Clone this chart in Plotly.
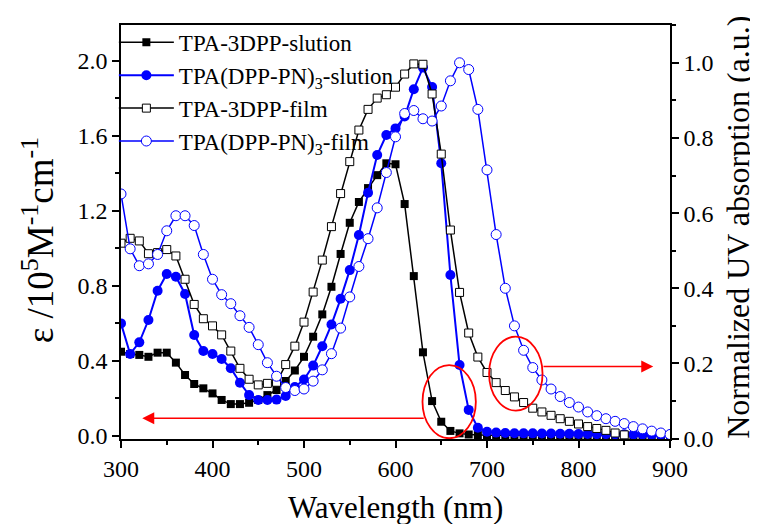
import plotly.graph_objects as go

wavelength = list(range(300, 910, 10))
wavelength_film1 = list(range(300, 860, 10))

tpa3dpp_solution = [
    0.449, 0.437, 0.432, 0.422, 0.444, 0.444, 0.391, 0.325, 0.277, 0.254,
    0.227, 0.192, 0.170, 0.170, 0.177, 0.192, 0.218, 0.245, 0.293, 0.349,
    0.422, 0.529, 0.648, 0.795, 0.970, 1.136, 1.247, 1.321, 1.390, 1.453,
    1.448, 1.236, 0.852, 0.446, 0.186, 0.076, 0.027, 0.014, 0.008, 0.005,
    0.004, 0.004, 0.004, 0.004, 0.003, 0.003, 0.003, 0.003, 0.003, 0.003,
    0.003, 0.003, 0.003, 0.003, 0.002, 0.002, 0.002, 0.002, 0.002, 0.002,
    0.002]

tpadpppn_solution = [
    0.600, 0.437, 0.499, 0.618, 0.774, 0.863, 0.849, 0.757, 0.538, 0.453,
    0.437, 0.410, 0.361, 0.284, 0.218, 0.192, 0.192, 0.194, 0.213, 0.261,
    0.301, 0.375, 0.478, 0.594, 0.731, 0.884, 1.071, 1.296, 1.497, 1.604,
    1.639, 1.702, 1.848, 1.963, 1.859, 1.453, 0.858, 0.378, 0.139, 0.044,
    0.023, 0.018, 0.016, 0.015, 0.014, 0.014, 0.013, 0.013, 0.012, 0.012,
    0.011, 0.011, 0.010, 0.010, 0.009, 0.009, 0.008, 0.008, 0.007, 0.007,
    0.006]

tpa3dpp_film = [
    0.520, 0.533, 0.526, 0.492, 0.495, 0.503, 0.486, 0.424, 0.357, 0.319,
    0.300, 0.276, 0.233, 0.187, 0.158, 0.143, 0.147, 0.150, 0.197, 0.246,
    0.310, 0.390, 0.475, 0.564, 0.652, 0.737, 0.821, 0.876, 0.906, 0.915,
    0.935, 0.970, 0.997, 0.996, 0.917, 0.757, 0.555, 0.389, 0.281, 0.217,
    0.176, 0.149, 0.128, 0.111, 0.096, 0.081, 0.071, 0.062, 0.053, 0.046,
    0.039, 0.032, 0.027, 0.022, 0.015, 0.010]

tpadpppn_film = [
    0.651, 0.505, 0.460, 0.465, 0.490, 0.553, 0.593, 0.593, 0.567, 0.490,
    0.424, 0.383, 0.359, 0.327, 0.296, 0.250, 0.202, 0.166, 0.136, 0.128,
    0.132, 0.153, 0.183, 0.226, 0.294, 0.377, 0.458, 0.532, 0.614, 0.708,
    0.803, 0.865, 0.873, 0.851, 0.845, 0.885, 0.952, 1.000, 0.982, 0.876,
    0.715, 0.543, 0.400, 0.300, 0.235, 0.189, 0.156, 0.132, 0.112, 0.096,
    0.084, 0.071, 0.061, 0.053, 0.046, 0.040, 0.032, 0.026, 0.020, 0.015,
    0.011]

series_names = ["TPA-3DPP-slution", "TPA(DPP-PN)<sub>3</sub>-slution",
                "TPA-3DPP-film", "TPA(DPP-PN)<sub>3</sub>-film"]

x_ticks = [300, 400, 500, 600, 700, 800, 900]

FONT = "Liberation Serif, Times New Roman, serif"
BLUE = "#0000ff"
RED = "#ff0000"

fig = go.Figure()

fig.add_trace(go.Scatter(
    x=wavelength, y=tpa3dpp_solution, name=series_names[0], mode="lines+markers",
    line=dict(color="black", width=1.5),
    marker=dict(symbol="square", size=8, color="black"), yaxis="y"))
fig.add_trace(go.Scatter(
    x=wavelength, y=tpadpppn_solution, name=series_names[1], mode="lines+markers",
    line=dict(color=BLUE, width=2),
    marker=dict(symbol="circle", size=10, color=BLUE), yaxis="y"))
fig.add_trace(go.Scatter(
    x=wavelength_film1, y=tpa3dpp_film, name=series_names[2], mode="lines+markers",
    line=dict(color="black", width=1.5),
    marker=dict(symbol="square", size=8, color="white",
                line=dict(color="black", width=1)), yaxis="y2"))
fig.add_trace(go.Scatter(
    x=wavelength, y=tpadpppn_film, name=series_names[3], mode="lines+markers",
    line=dict(color=BLUE, width=1.5),
    marker=dict(symbol="circle", size=10, color="white",
                line=dict(color=BLUE, width=1)), yaxis="y2"))

axis_common = dict(showline=True, linecolor="black", linewidth=1.5,
                   ticks="outside", ticklen=7, tickwidth=1.5, tickcolor="black",
                   showgrid=False, zeroline=False,
                   tickfont=dict(family=FONT, size=24, color="black"))

fig.update_layout(
    width=758, height=524,
    margin=dict(l=113, r=96, t=17, b=93),
    paper_bgcolor="white", plot_bgcolor="white",
    font=dict(family=FONT, color="black"),
    xaxis=dict(range=[300, 900], tickvals=x_ticks, mirror=True,
               minor=dict(ticks="outside", ticklen=4, tickwidth=1.5, dtick=50,
                          tick0=300, tickcolor="black"),
               **axis_common),
    yaxis=dict(range=[-0.016, 2.19], dtick=0.4, tick0=0, tickformat=".1f",
               minor=dict(ticks="outside", ticklen=4, tickwidth=1.5, dtick=0.2,
                          tick0=0, tickcolor="black"),
               **axis_common),
    yaxis2=dict(range=[-0.001, 1.1005], dtick=0.2, tick0=0, tickformat=".1f",
                overlaying="y", side="right",
                minor=dict(ticks="outside", ticklen=4, tickwidth=1.5, dtick=0.1,
                           tick0=0, tickcolor="black"),
                **axis_common),
    legend=dict(x=-0.013, y=1.01, xanchor="left", yanchor="top",
                bgcolor="rgba(0,0,0,0)", borderwidth=0,
                font=dict(family=FONT, size=23, color="black"),
                itemwidth=55, tracegroupgap=0),
    showlegend=True,
)

# Red ellipses
fig.add_shape(type="circle", xref="x", yref="y", x0=629.5, x1=687.8, y0=-0.012, y1=0.378,
              line=dict(color=RED, width=1.8))
fig.add_shape(type="circle", xref="x", yref="y", x0=702.3, x1=760.7, y0=0.135, y1=0.529,
              line=dict(color=RED, width=1.8))

# Red arrows
fig.add_annotation(x=323.2, y=0.094, ax=632.5, ay=0.094, xref="x", yref="y",
                   axref="x", ayref="y", text="", showarrow=True,
                   arrowhead=2, arrowsize=1.6, arrowwidth=1.5, arrowcolor=RED)
fig.add_annotation(x=881.7, y=0.370, ax=760.1, ay=0.370, xref="x", yref="y",
                   axref="x", ayref="y", text="", showarrow=True,
                   arrowhead=2, arrowsize=1.6, arrowwidth=1.5, arrowcolor=RED)

# Axis titles
fig.add_annotation(text="Wavelength (nm)", xref="paper", yref="paper", x=0.5, y=0,
                   xanchor="center", yanchor="middle", yshift=-68, showarrow=False,
                   font=dict(family=FONT, size=31, color="black"))
fig.add_annotation(text="ε /10<sup>5</sup>M<sup>-1</sup>cm<sup>-1</sup>",
                   xref="paper", yref="paper", x=0, y=0.48, xshift=-83,
                   xanchor="center", yanchor="middle", textangle=-90, showarrow=False,
                   font=dict(family=FONT, size=37, color="black"))
fig.add_annotation(text="Normalized UV absorption (a.u.)",
                   xref="paper", yref="paper", x=1, y=0.51, xshift=68,
                   xanchor="center", yanchor="middle", textangle=-90, showarrow=False,
                   font=dict(family=FONT, size=32, color="black"))

fig.write_html("out.html")
